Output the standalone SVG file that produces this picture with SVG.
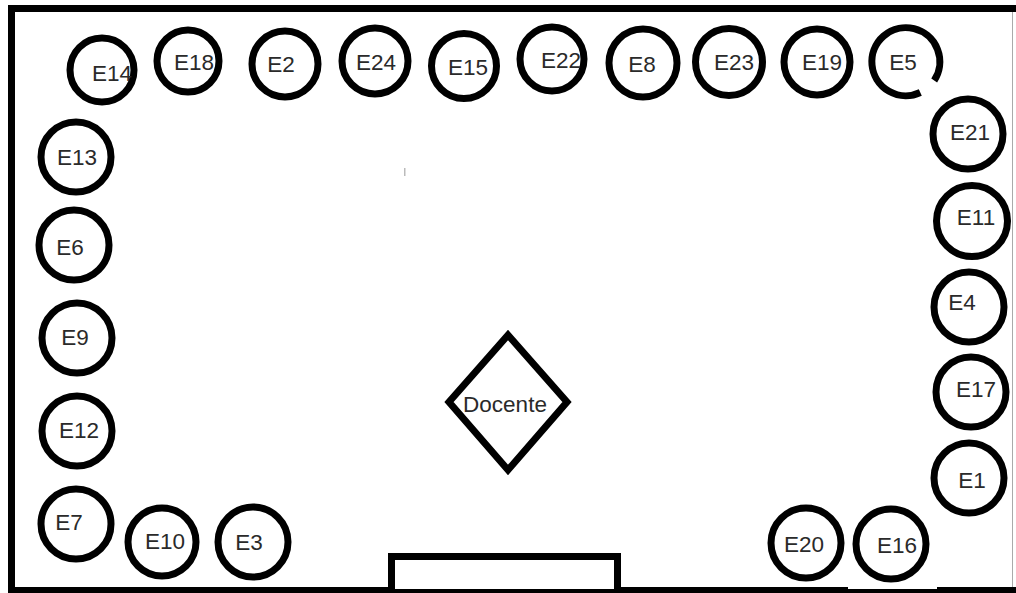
<svg xmlns="http://www.w3.org/2000/svg" width="1016" height="593" viewBox="0 0 1016 593">
<style>
.s{fill:#fff;stroke:#000;stroke-width:7}
.t{font-family:"Liberation Sans",Arial,sans-serif;font-size:22.5px;fill:#2a2a2a;text-anchor:middle}
</style>
<rect x="0" y="0" width="1016" height="593" fill="#fff"/>
<g id="room">
<rect x="8" y="5" width="1008" height="7" fill="#000"/>
<rect x="8" y="5" width="7" height="588" fill="#000"/>
<rect x="8" y="587" width="840" height="6" fill="#000"/>
<rect x="848" y="589" width="89" height="4" fill="#000"/>
<rect x="937" y="587" width="79" height="6" fill="#000"/>
<line x1="1012.5" y1="12" x2="1012.5" y2="587" stroke="#aaa" stroke-width="1"/>
<rect x="404" y="168" width="1.5" height="8" fill="#bbb"/>
</g>
<g id="board"><rect class="s" x="391.5" y="556.5" width="226" height="36"/></g>
<g id="docente"><polygon class="s" points="508,335 567,402 508,470 449,402"/><text class="t" x="505" y="412">Docente</text></g>
<g id="E14"><circle class="s" cx="102" cy="70" r="32"/><text class="t" x="112" y="81">E14</text></g>
<g id="E18"><circle class="s" cx="188" cy="61" r="31"/><text class="t" x="194" y="70">E18</text></g>
<g id="E2"><circle class="s" cx="285" cy="64" r="33"/><text class="t" x="281" y="72">E2</text></g>
<g id="E24"><circle class="s" cx="375" cy="61" r="33"/><text class="t" x="376" y="70">E24</text></g>
<g id="E15"><circle class="s" cx="464" cy="66" r="32.5"/><text class="t" x="468" y="75">E15</text></g>
<g id="E22"><circle class="s" cx="552" cy="59" r="32"/><text class="t" x="561" y="68">E22</text></g>
<g id="E8"><circle class="s" cx="643" cy="63" r="34"/><text class="t" x="642" y="72">E8</text></g>
<g id="E23"><circle class="s" cx="729" cy="62" r="33.5"/><text class="t" x="734" y="70">E23</text></g>
<g id="E19"><circle class="s" cx="817" cy="62" r="33"/><text class="t" x="822" y="70">E19</text></g>
<g id="E5"><path class="s" fill="none" d="M 920.3 92.5 A 34 34 0 1 1 934.2 80.5"/><text class="t" x="903" y="70">E5</text></g>
<g id="E13"><circle class="s" cx="76" cy="157" r="35"/><text class="t" x="77" y="165">E13</text></g>
<g id="E6"><circle class="s" cx="74" cy="245" r="35"/><text class="t" x="70" y="255">E6</text></g>
<g id="E9"><circle class="s" cx="77" cy="338" r="35"/><text class="t" x="75" y="345">E9</text></g>
<g id="E12"><circle class="s" cx="77" cy="431" r="35"/><text class="t" x="79" y="438">E12</text></g>
<g id="E7"><circle class="s" cx="76" cy="524" r="35"/><text class="t" x="69" y="530">E7</text></g>
<g id="E10"><circle class="s" cx="162" cy="542" r="34"/><text class="t" x="165" y="549">E10</text></g>
<g id="E3"><circle class="s" cx="253" cy="542" r="35"/><text class="t" x="249" y="550">E3</text></g>
<g id="E21"><circle class="s" cx="968" cy="134" r="35"/><text class="t" x="970" y="140">E21</text></g>
<g id="E11"><circle class="s" cx="972" cy="221" r="35.5"/><text class="t" x="976" y="225">E11</text></g>
<g id="E4"><circle class="s" cx="969" cy="307" r="35"/><text class="t" x="962" y="310">E4</text></g>
<g id="E17"><circle class="s" cx="971" cy="392" r="35"/><text class="t" x="976" y="397">E17</text></g>
<g id="E1"><circle class="s" cx="969" cy="478" r="35"/><text class="t" x="972" y="488">E1</text></g>
<g id="E16"><circle class="s" cx="891" cy="544" r="35"/><text class="t" x="897" y="553">E16</text></g>
<g id="E20"><circle class="s" cx="806" cy="543" r="35"/><text class="t" x="804" y="552">E20</text></g>
<g id="connectors"></g>
</svg>
